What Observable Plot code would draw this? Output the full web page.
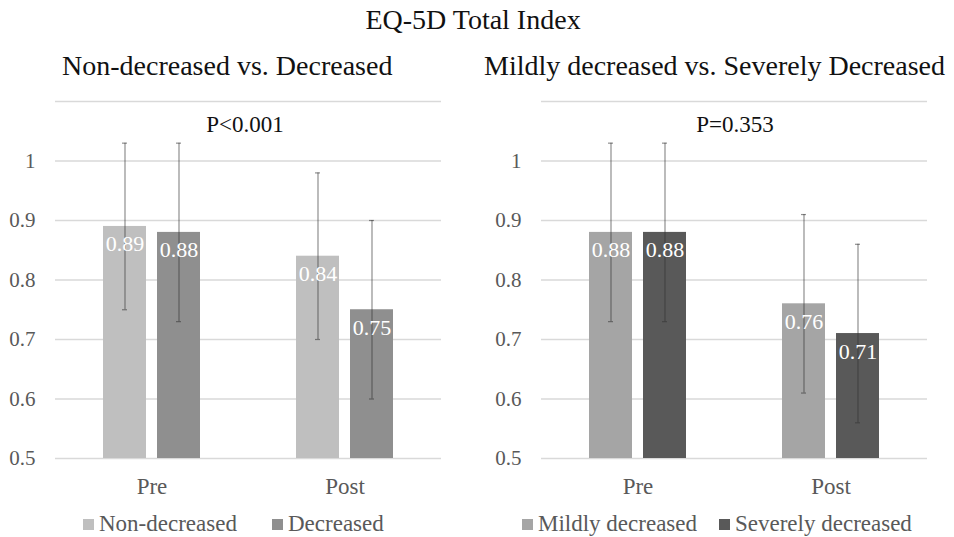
<!DOCTYPE html>
<html><head><meta charset="utf-8">
<script src="https://cdn.jsdelivr.net/npm/d3@7"></script>
<script src="https://cdn.jsdelivr.net/npm/@observablehq/plot@0.6"></script>
<style>
body{margin:0;background:#fff;}
#root{position:relative;width:954px;height:537px;font-family:"Liberation Serif","Times New Roman",serif;overflow:hidden;background:#fff;}
#root svg, #root svg text{font-family:"Liberation Serif","Times New Roman",serif !important;}
.abs{position:absolute;white-space:nowrap;}
.title{top:4px;left:0;width:946px;text-align:center;font-size:28px;line-height:32px;color:#111;}
.sub{top:50px;font-size:28px;line-height:32px;color:#111;}
.pval{top:111px;font-size:23px;line-height:28px;color:#111;transform:translateX(-50%);}
.litem{top:511px;display:flex;align-items:center;font-size:23px;line-height:26px;color:#595959;}
.litem .sw{width:11px;height:11px;margin-right:5px;}
.panel{position:absolute;top:90px;}
</style></head><body><div id="root"></div>
<script>
// ---- data ----
const groups = ["Pre", "Post"];
const leftSeries = ["Non-decreased", "Decreased"];
const rightSeries = ["Mildly decreased", "Severely decreased"];
const nonDecreasedMean = [0.89, 0.84];
const decreasedMean = [0.88, 0.75];
const nonDecreasedSD = [0.14, 0.14];
const decreasedSD = [0.15, 0.15];
const mildlyMean = [0.88, 0.76];
const severelyMean = [0.88, 0.71];
const mildlySD = [0.15, 0.15];
const severelySD = [0.15, 0.15];
const leftColors = ["#bfbfbf", "#8f8f8f"];
const rightColors = ["#a5a5a5", "#595959"];
const yDomain = [0.5, 1.1];
const yTicks = [0.5, 0.6, 0.7, 0.8, 0.9, 1];
const gridTicks = [0.5, 0.6, 0.7, 0.8, 0.9, 1, 1.1];
const titleText = "EQ-5D Total Index";
const leftTitle = "Non-decreased vs. Decreased";
const rightTitle = "Mildly decreased vs. Severely Decreased";
const leftP = "P<0.001";
const rightP = "P=0.353";

const root = document.getElementById("root");
function add(cls, text, style) {
  const d = document.createElement("div");
  d.className = "abs " + cls;
  if (text != null) d.textContent = text;
  Object.assign(d.style, style || {});
  root.appendChild(d);
  return d;
}

const serif = "Liberation Serif, Times New Roman, serif";

function makePanel(series, means, sds, colors, marginLeft, marginRight) {
  const rows = groups.flatMap((g, i) => series.map((s, j) => ({
    group: g, series: s, mean: means[j][i], sd: sds[j][i]
  })));
  const err = {fx: "group", x: "series", stroke: "#333", strokeOpacity: 0.55, strokeWidth: 1.2};
  return Plot.plot({
    width: 477, height: 420,
    marginTop: 11, marginBottom: 52, marginLeft, marginRight,
    style: {background: "transparent", overflow: "visible"},
    fx: {domain: groups, padding: 0, label: null},
    x: {domain: series, paddingInner: 0.21, paddingOuter: 0.876, axis: null},
    y: {domain: yDomain},
    color: {domain: series, range: colors},
    marks: [
      Plot.gridY(gridTicks, {stroke: "#d9d9d9", strokeOpacity: 1, strokeWidth: 1.6}),
      Plot.barY(rows, {fx: "group", x: "series", y1: yDomain[0], y2: "mean", fill: "series"}),
      Plot.ruleX(rows, {...err, y1: d => d.mean - d.sd, y2: d => d.mean + d.sd}),
      Plot.tickY(rows, {...err, y: d => d.mean + d.sd, insetLeft: 19, insetRight: 19}),
      Plot.tickY(rows, {...err, y: d => d.mean - d.sd, insetLeft: 19, insetRight: 19}),
      Plot.text(rows, {fx: "group", x: "series", y: "mean", text: d => d.mean.toFixed(2), fill: "white", dy: 18, fontSize: 22, fontFamily: serif}),
      Plot.axisY(yTicks, {tickSize: 0, tickPadding: 20, fontSize: 21, fontFamily: serif, color: "#595959", tickFormat: d => String(d), label: null}),
      Plot.axisFx({anchor: "bottom", tickSize: 0, tickPadding: 19, fontSize: 23, fontFamily: serif, color: "#595959", label: null})
    ]
  });
}

add("title", titleText);
add("sub", leftTitle, {left: "62px"});
add("sub", rightTitle, {left: "484px"});

const left = makePanel(leftSeries, [nonDecreasedMean, decreasedMean], [nonDecreasedSD, decreasedSD], leftColors, 55, 36);
const lw = document.createElement("div"); lw.className = "panel"; lw.style.left = "0px"; lw.appendChild(left); root.appendChild(lw);
const right = makePanel(rightSeries, [mildlyMean, severelyMean], [mildlySD, severelySD], rightColors, 64, 27);
const rw = document.createElement("div"); rw.className = "panel"; rw.style.left = "477px"; rw.appendChild(right); root.appendChild(rw);

add("pval", leftP, {left: "245px"});
add("pval", rightP, {left: "735px"});

function legend(series, colors, xs) {
  series.forEach((s, i) => {
    const it = add("litem", null, {left: xs[i] + "px"});
    const sw = document.createElement("div"); sw.className = "sw"; sw.style.background = colors[i];
    const t = document.createElement("span"); t.textContent = s;
    it.appendChild(sw); it.appendChild(t);
  });
}
legend(leftSeries, leftColors, [83, 272]);
legend(rightSeries, rightColors, [522, 719]);
</script></body></html>
